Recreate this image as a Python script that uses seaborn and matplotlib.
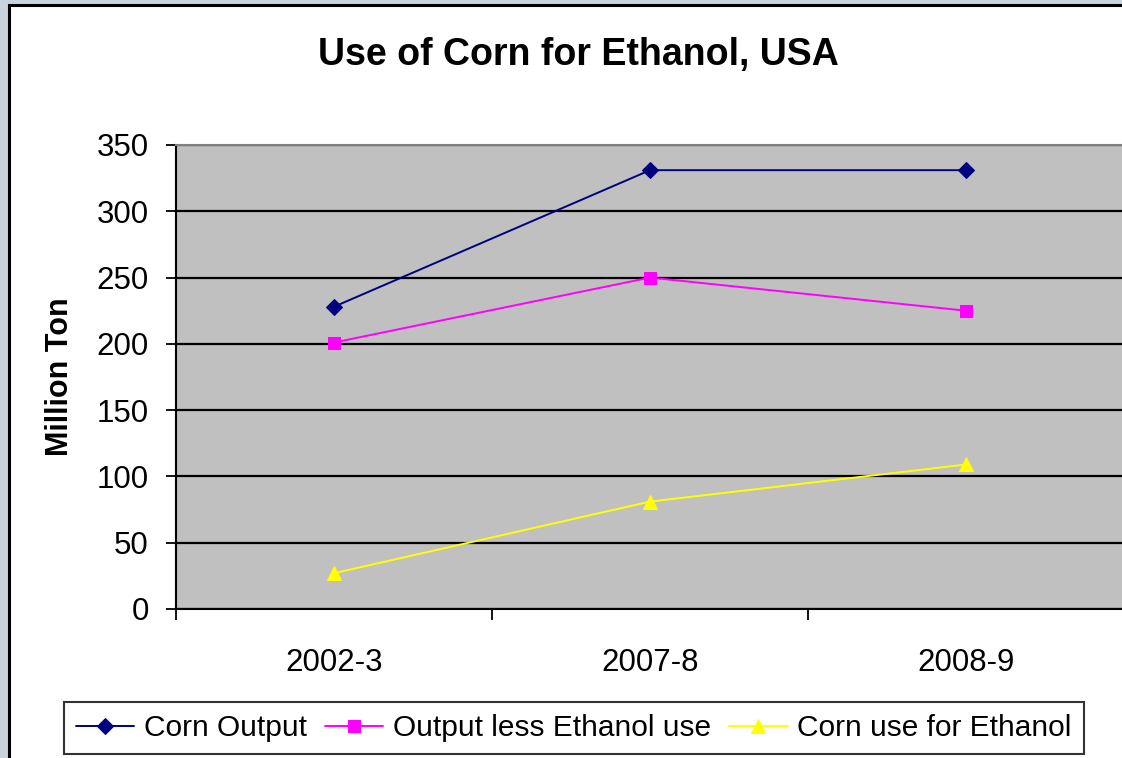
import numpy as np
import pandas as pd
import matplotlib
matplotlib.use("Agg")
import matplotlib.pyplot as plt
from matplotlib.patches import Rectangle
import seaborn as sns

# Data (million ton)
seasons = ['2002-3', '2007-8', '2008-9']
corn_output = [228, 331, 331]
output_less_ethanol = [201, 250, 225]
corn_for_ethanol = [27, 81, 109]

series_names = ['Corn Output', 'Output less Ethanol use', 'Corn use for Ethanol']
series_colors = ['#000080', '#ff00ff', '#ffff00']
series_markers = ['D', 's', '^']
series_sizes = [8.5, 8.5, 9.5]

df = pd.DataFrame({
    'pos': list(range(len(seasons))) * 3,
    'value': corn_output + output_less_ethanol + corn_for_ethanol,
    'series': np.repeat(series_names, len(seasons)),
})

sns.set_style('white')
plt.rcParams['font.family'] = ['Liberation Sans', 'DejaVu Sans']
plt.rcParams['text.color'] = 'black'
plt.rcParams['axes.labelcolor'] = 'black'
plt.rcParams['xtick.color'] = 'black'
plt.rcParams['ytick.color'] = 'black'

fig = plt.figure(figsize=(11.22, 7.58), dpi=100)
fig.patch.set_facecolor('#c8d3dc')
# white chart area with black frame
fig.patches.append(Rectangle((9 / 1122, -0.1), 1.2, (758 - 5) / 758 + 0.1,
                             transform=fig.transFigure, facecolor='white',
                             edgecolor='black', linewidth=2.2, zorder=-5))

W, H = 1122, 758
ax = fig.add_axes([176 / W, 1 - 609 / H, (1124 - 176) / W, (609 - 145) / H])
ax.set_facecolor('#c0c0c0')

for name, color, mk, ms in zip(series_names, series_colors, series_markers, series_sizes):
    sub = df[df['series'] == name]
    sns.lineplot(data=sub, x='pos', y='value', ax=ax, color=color, marker=mk,
                 markersize=ms, markeredgecolor=color, linewidth=1.4, label=name,
                 zorder=3)

ax.set_xlim(-0.5, 2.5)
ax.set_ylim(0, 350)
ax.set_yticks(np.arange(0, 351, 50))
ax.yaxis.grid(True, color='black', linewidth=1.6)
ax.set_axisbelow(True)

# category boundaries as major ticks, labels on minor ticks
ax.set_xticks([-0.5, 0.5, 1.5, 2.5])
ax.set_xticklabels([])
ax.set_xticks(range(len(seasons)), minor=True)
ax.set_xticklabels(seasons, minor=True)
ax.tick_params(axis='x', which='major', direction='out', length=8, width=1.3,
               color='black', bottom=True)
ax.tick_params(axis='x', which='minor', length=0, pad=28, labelsize=22.5)
ax.tick_params(axis='y', direction='out', length=7.5, width=1.3, color='black',
               left=True, labelsize=22.5, pad=12)

for side in ['left', 'bottom']:
    ax.spines[side].set_color('black')
    ax.spines[side].set_linewidth(1.5)
ax.spines['top'].set_color('#808080')
ax.spines['top'].set_linewidth(1.5)
ax.spines['right'].set_visible(False)

ax.set_xlabel('')
ax.set_ylabel('Million Ton', fontsize=22, fontweight='bold')
ax.yaxis.set_label_coords(-0.107, 0.5)

fig.text(578 / W, 1 - 55 / H, 'Use of Corn for Ethanol, USA', ha='center',
         va='center', fontsize=27, fontweight='bold')

ax.legend_.remove()
handles, labels = ax.get_legend_handles_labels()
leg = fig.legend(handles, labels, loc='center', ncol=3,
                 bbox_to_anchor=(574 / W, 1 - 728 / H), fontsize=21.5,
                 frameon=True, fancybox=False, edgecolor='black',
                 handlelength=1.95, handletextpad=0.33, columnspacing=0.6,
                 borderpad=0.4)
leg.get_frame().set_linewidth(1.5)

fig.savefig('out.png', dpi=100, facecolor=fig.get_facecolor())
